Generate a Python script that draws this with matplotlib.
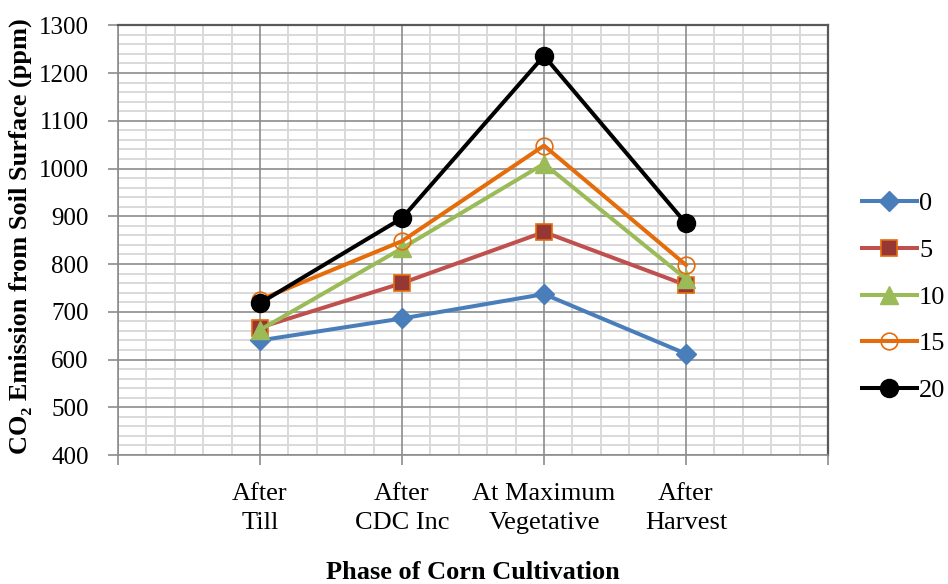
import matplotlib
matplotlib.use('Agg')
import matplotlib.pyplot as plt
import numpy as np
from matplotlib.ticker import MultipleLocator

plt.rcParams['font.family'] = ['Liberation Serif', 'DejaVu Serif']

fases = ['After\nTill', 'After\nCDC Inc', 'At Maximum\nVegetative', 'After\nHarvest']
dosis = ['0', '5', '10', '15', '20']
emision_0 = [640, 686, 737, 612]
emision_5 = [667, 760, 867, 756]
emision_10 = [662, 833, 1010, 769]
emision_15 = [725, 848, 1048, 798]
emision_20 = [718, 896, 1236, 885]

series = [emision_0, emision_5, emision_10, emision_15, emision_20]
estilos = [
    dict(color='#4A7EBB', marker='D', markersize=10.5, markerfacecolor='#4A7EBB', markeredgecolor='#4A7EBB'),
    dict(color='#C0504D', marker='s', markersize=12, markerfacecolor='#953735', markeredgecolor='#E46C0A', markeredgewidth=1.2),
    dict(color='#9BBB59', marker='^', markersize=13, markerfacecolor='#9BBB59', markeredgecolor='#9BBB59'),
    dict(color='#E46C0A', marker='o', markersize=12, markerfacecolor='none', markeredgecolor='#E46C0A', markeredgewidth=1.2),
    dict(color='black', marker='o', markersize=13, markerfacecolor='black', markeredgecolor='black'),
]

fig = plt.figure(figsize=(9.48, 5.84), dpi=100)
ax = fig.add_axes([118 / 948, 1 - 455 / 584, 710 / 948, (455 - 25.3) / 584])

x = np.arange(1, len(fases) + 1)
for valores, nombre, estilo in zip(series, dosis, estilos):
    ax.plot(x, valores, linewidth=2.9, label=nombre, zorder=3, **estilo)

ax.set_xlim(0, 5)
ax.set_ylim(400, 1300)
ax.set_xticks(np.arange(0, 6))
ax.set_xticklabels([''] + fases + [''], fontsize=19, linespacing=1.42)
ax.xaxis.set_minor_locator(MultipleLocator(0.2))
ax.yaxis.set_major_locator(MultipleLocator(100))
ax.yaxis.set_minor_locator(MultipleLocator(20))
ax.tick_params(axis='y', labelsize=18)

# rejilla menor clara debajo, líneas principales encima
ax.set_axisbelow(True)
ax.grid(which='minor', color='#d9d9d9', linewidth=1.4)
for xv in ax.get_xticks():
    ax.axvline(xv, color='#8c8c8c', linewidth=1.2, zorder=1)
for yv in ax.get_yticks():
    ax.axhline(yv, color='#8c8c8c', linewidth=1.2, zorder=1)

ax.tick_params(which='major', direction='out', length=7, width=1.2, color='#8c8c8c')
ax.tick_params(axis='y', which='major', pad=14)
ax.tick_params(axis='x', which='major', pad=13)
ax.tick_params(which='minor', length=0)

for lado in ['left', 'bottom']:
    ax.spines[lado].set_color('#8c8c8c')
    ax.spines[lado].set_linewidth(1.2)
for lado in ['top', 'right']:
    ax.spines[lado].set_color('#595959')
    ax.spines[lado].set_linewidth(1.6)

ax.set_ylabel('CO₂ Emission from Soil Surface (ppm)', fontsize=19, fontweight='bold')
ax.yaxis.set_label_coords(32 / 948, 1 - 236 / 584, transform=fig.transFigure)
ax.set_xlabel('Phase of Corn Cultivation', fontsize=19, fontweight='bold')
ax.xaxis.set_label_coords(473 / 948, 1 - 561 / 584, transform=fig.transFigure)

leyenda = fig.legend(loc='center left', bbox_to_anchor=(862 / 948, 1 - 297 / 584),
                     frameon=False, fontsize=19, handlelength=2.08, handletextpad=0.08,
                     labelspacing=0.88, borderpad=0, borderaxespad=0)

fig.savefig('out.png', dpi=100)
